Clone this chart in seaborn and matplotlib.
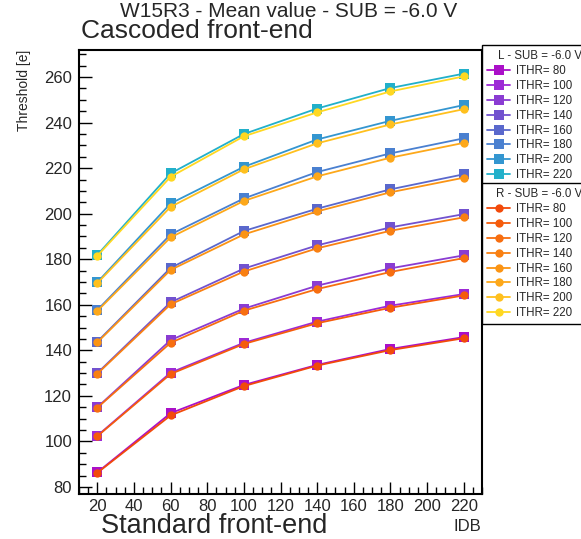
import numpy as np
import pandas as pd
import matplotlib
matplotlib.use("Agg")
import matplotlib.pyplot as plt
from matplotlib.ticker import MultipleLocator
import seaborn as sns

# ---- data ----
idb = [20, 60, 100, 140, 180, 220]
ithr = [80, 100, 120, 140, 160, 180, 200, 220]

left_vals = {
    80:  [86.4, 112.4, 124.8, 133.6, 140.6, 145.8],
    100: [102.5, 130.2, 143.3, 152.6, 159.6, 164.7],
    120: [115.0, 144.5, 158.3, 168.4, 176.0, 181.7],
    140: [130.0, 161.1, 175.9, 186.1, 194.0, 199.8],
    160: [143.8, 176.2, 192.4, 202.2, 210.7, 217.3],
    180: [157.7, 190.9, 206.7, 218.3, 226.5, 233.1],
    200: [169.9, 204.5, 220.6, 232.6, 240.8, 247.7],
    220: [181.9, 217.7, 235.0, 246.2, 255.2, 261.5],
}
right_vals = {
    80:  [86.2, 111.4, 124.3, 133.3, 140.1, 145.3],
    100: [102.3, 129.6, 142.8, 151.9, 158.7, 164.1],
    120: [114.8, 143.3, 157.4, 166.9, 174.4, 180.5],
    140: [129.7, 160.2, 174.6, 184.8, 192.5, 198.4],
    160: [143.5, 175.3, 190.9, 201.0, 209.4, 215.8],
    180: [157.3, 189.6, 205.6, 216.4, 224.6, 231.1],
    200: [169.5, 203.0, 219.5, 230.9, 239.2, 245.9],
    220: [181.5, 216.2, 234.0, 244.5, 253.7, 260.3],
}
left_colors = ['#aa10c8', '#9d2ad6', '#8a3cd2', '#7252cf', '#5a68cc', '#4a80d0', '#3496d0', '#22b0ca']
right_colors = ['#f24a0a', '#f55c0c', '#f76e10', '#f98012', '#fb9414', '#fda81a', '#ffc01e', '#ffd822']

title = "W15R3 - Mean value - SUB = -6.0 V"

# ---- build tables ----
def make_df(vals, side):
    rows = []
    for t in ithr:
        for x, y in zip(idb, vals[t]):
            rows.append({"IDB": x, "Threshold": y, "series": f"ITHR= {t}", "side": side})
    return pd.DataFrame(rows)

df_l = make_df(left_vals, "L")
df_r = make_df(right_vals, "R")
labels = [f"ITHR= {t}" for t in ithr]

sns.set_style("white")
plt.rcParams['font.family'] = ['Liberation Sans', 'DejaVu Sans']

fig = plt.figure(figsize=(5.81, 5.39), dpi=100)
ax = fig.add_axes([79/581, 1-494/539, (482-79)/581, (494-50)/539])

sns.lineplot(data=df_l, x="IDB", y="Threshold", hue="series", hue_order=labels,
             palette=dict(zip(labels, left_colors)), marker='s', markersize=6.5,
             markeredgewidth=0, linewidth=1.3, legend=False, ax=ax, sort=False)
n_l = len(ax.lines)
sns.lineplot(data=df_r, x="IDB", y="Threshold", hue="series", hue_order=labels,
             palette=dict(zip(labels, right_colors)), marker='o', markersize=6,
             markeredgewidth=0, linewidth=1.3, legend=False, ax=ax, sort=False)
lines_l = ax.lines[:n_l]
lines_r = ax.lines[n_l:]

ax.set_xlim(10, 230)
ax.set_ylim(76.9, 271.9)
ax.xaxis.set_major_locator(MultipleLocator(20))
ax.xaxis.set_minor_locator(MultipleLocator(5))
ax.yaxis.set_major_locator(MultipleLocator(20))
ax.yaxis.set_minor_locator(MultipleLocator(5))
ax.tick_params(axis='both', which='major', direction='in', length=9, width=1,
               labelsize=12, color='black')
ax.tick_params(axis='both', which='minor', direction='in', length=5, width=1, color='black')
ax.tick_params(axis='x', which='both', top=False, bottom=True, pad=3.5)
ax.tick_params(axis='y', which='both', right=False, left=True, pad=5)
for s in ax.spines.values():
    s.set_linewidth(1.5)
    s.set_color('black')
ax.set_xlabel("")
ax.set_ylabel("")

fig.text(481/581, 1-531/539, "IDB", ha='right', va='baseline', fontsize=12)
fig.text(24/581, 1-50/539, "Threshold [e]", rotation=90, ha='center', va='top', fontsize=10)
fig.text(120/581, 1-17/539, title, ha='left', va='baseline', fontsize=15)
fig.text(81/581, 1-38/539, "Cascoded front-end", ha='left', va='baseline', fontsize=19)
fig.text(101/581, 1-533/539, "Standard front-end", ha='left', va='baseline', fontsize=19.5)

# legends
leg_kw = dict(loc='upper left', mode='expand', fontsize=8.3, frameon=True, fancybox=False,
              handlelength=2.0, handletextpad=0.5, labelspacing=0.25, borderpad=0.45,
              borderaxespad=0, title_fontsize=8.3, edgecolor='black', markerscale=1.0)
hb = 0.01
leg1 = fig.legend(lines_l, labels, bbox_to_anchor=(482/581, 1-45/539-hb, 115/581, hb),
                  title="L - SUB = -6.0 V", **leg_kw)
leg2 = fig.legend(lines_r, labels, bbox_to_anchor=(482/581, 1-183/539-hb, 115/581, hb),
                  title="R - SUB = -6.0 V", **leg_kw)
for lg in (leg1, leg2):
    lg.get_frame().set_linewidth(1.0)
    lg.get_frame().set_alpha(1)

fig.savefig("out.png", dpi=100)
